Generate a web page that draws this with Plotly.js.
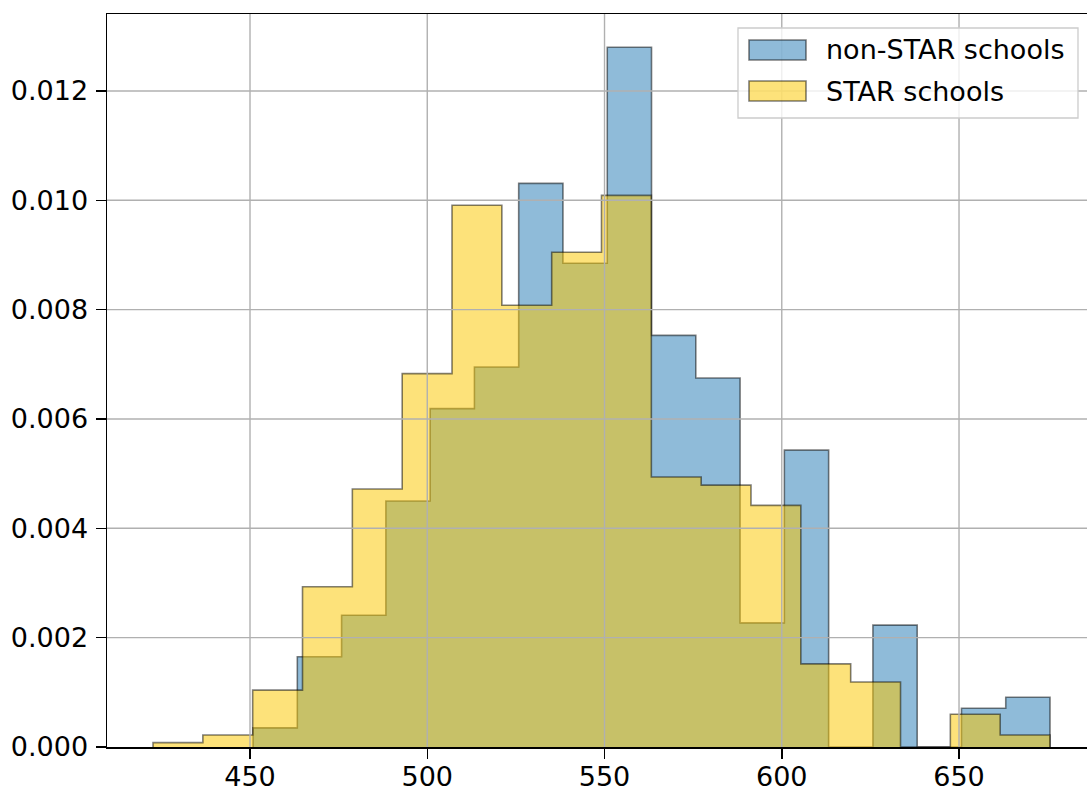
<!DOCTYPE html>
<html>
<head>
<meta charset="utf-8">
<script src="https://cdn.plot.ly/plotly-3.0.1.min.js"></script>
<style>html,body{margin:0;padding:0;background:#fff;overflow:hidden;}#chart{width:1088px;height:791px;}</style>
</head>
<body>
<div id="chart"></div>
<script>
// Bin edges (score) and densities
const nonStarEdges = [450.85, 463.34, 475.83, 488.32, 500.81, 513.30, 525.79, 538.28, 550.77, 563.26,
                      575.75, 588.24, 600.73, 613.22, 625.71, 638.20, 650.69, 663.18, 675.67];
const nonStarDensity = [0.00035, 0.00165, 0.00241, 0.00450, 0.00619, 0.00695, 0.01031, 0.00885, 0.01280,
                        0.00753, 0.00675, 0.00227, 0.00543, 0.00000, 0.00223, 0.00000, 0.00071, 0.00091];

const starEdges = [422.64, 436.70, 450.75, 464.81, 478.87, 492.93, 506.98, 521.04, 535.10, 549.15,
                   563.21, 577.27, 591.32, 605.38, 619.44, 633.50, 647.55, 661.61, 675.67];
const starDensity = [0.00008, 0.00022, 0.00104, 0.00293, 0.00472, 0.00683, 0.00991, 0.00808, 0.00905,
                     0.01009, 0.00494, 0.00479, 0.00442, 0.00152, 0.00119, 0.00000, 0.00060, 0.00022];

const seriesNames = ['non-STAR schools', 'STAR schools'];
const xTicks = [450, 500, 550, 600, 650];
const yTicks = [0, 0.002, 0.004, 0.006, 0.008, 0.010, 0.012];

const blueFill = 'rgba(31,119,180,0.5)';
const yellowFill = 'rgba(252,200,0,0.52)';
const edgeCol = 'rgba(0,0,0,0.5)';
const FS = 27;

function stepTrace(edges, vals, name, fill) {
  const xs = [edges[0]];
  const ys = [0];
  for (let i = 0; i < vals.length; i++) { xs.push(edges[i]); ys.push(vals[i]); }
  xs.push(edges[edges.length - 1]); ys.push(0);
  return {
    type: 'scatter', mode: 'lines', x: xs, y: ys, name: name,
    line: {shape: 'hv', color: edgeCol, width: 1.6},
    fill: 'tozeroy', fillcolor: fill, showlegend: false, hoverinfo: 'skip'
  };
}

const traces = [
  stepTrace(nonStarEdges, nonStarDensity, seriesNames[0], blueFill),
  stepTrace(starEdges, starDensity, seriesNames[1], yellowFill)
];

const gridCol = '#b0b0b0';
const shapes = [];
xTicks.forEach(t => shapes.push({type: 'line', xref: 'x', yref: 'paper', x0: t, x1: t, y0: 0, y1: 1,
  line: {color: gridCol, width: 1.4}, layer: 'above'}));
yTicks.slice(1).forEach(t => shapes.push({type: 'line', xref: 'paper', yref: 'y', x0: 0, x1: 1, y0: t, y1: t,
  line: {color: gridCol, width: 1.4}, layer: 'above'}));

// legend box (paper coords)
const L = 107, R = 1087, T = 14, B = 747;
const px = v => (v - L) / (R - L);
const py = v => (B - v) / (B - T);
shapes.push({type: 'rect', xref: 'paper', yref: 'paper', x0: px(738), x1: px(1078), y0: py(118), y1: py(28),
  line: {color: '#cccccc', width: 1.3}, fillcolor: 'rgba(255,255,255,0.8)', layer: 'above'});
shapes.push({type: 'rect', xref: 'paper', yref: 'paper', x0: px(749), x1: px(806), y0: py(60), y1: py(40),
  line: {color: edgeCol, width: 1.6}, fillcolor: blueFill, layer: 'above'});
shapes.push({type: 'rect', xref: 'paper', yref: 'paper', x0: px(749), x1: px(806), y0: py(101), y1: py(81),
  line: {color: edgeCol, width: 1.6}, fillcolor: yellowFill, layer: 'above'});

const annotations = [
  {xref: 'paper', yref: 'paper', x: px(824), y: py(50), text: seriesNames[0], showarrow: false,
   xanchor: 'left', yanchor: 'middle', font: {family: 'DejaVu Sans', size: FS, color: '#000'}},
  {xref: 'paper', yref: 'paper', x: px(824), y: py(91), text: seriesNames[1], showarrow: false,
   xanchor: 'left', yanchor: 'middle', font: {family: 'DejaVu Sans', size: FS, color: '#000'}}
];

const layout = {
  width: 1088, height: 791,
  margin: {l: L, r: 1088 - R, t: T, b: 791 - B, pad: 0},
  paper_bgcolor: '#fff', plot_bgcolor: '#fff',
  font: {family: 'DejaVu Sans', size: FS, color: '#000'},
  showlegend: false,
  xaxis: {range: [409.66, 686.1], tickvals: xTicks, ticktext: xTicks.map(String),
    showgrid: false, zeroline: false, showline: true, mirror: true, linecolor: '#000', linewidth: 1.5,
    ticks: 'outside', ticklen: 10, tickwidth: 1.5, tickcolor: '#000', automargin: false,
    ticklabelstandoff: -5,
    tickfont: {family: 'DejaVu Sans', size: FS, color: '#000'}},
  yaxis: {range: [0, 0.013408], tickvals: yTicks, ticktext: yTicks.map(v => v.toFixed(3)),
    showgrid: false, zeroline: false, showline: true, mirror: false, linecolor: '#000', linewidth: 1.5,
    ticks: 'outside', ticklen: 10, tickwidth: 1.5, tickcolor: '#000', automargin: false,
    ticklabelstandoff: 2,
    tickfont: {family: 'DejaVu Sans', size: FS, color: '#000'}},
  shapes: shapes,
  annotations: annotations
};

Plotly.newPlot('chart', traces, layout, {staticPlot: true, displayModeBar: false});
</script>
</body>
</html>
